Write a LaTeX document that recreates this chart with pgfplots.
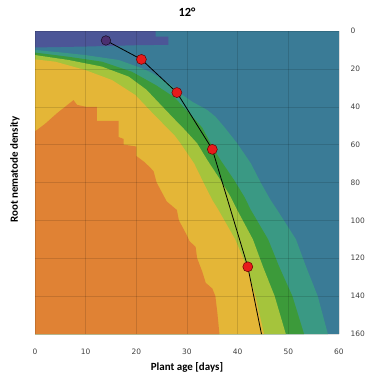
\documentclass[border=0pt]{standalone}
\usepackage{fontspec}
\setmainfont{Carlito}
\newfontfamily\dejavu{DejaVu Sans}
\usepackage{pgfplots}
\pgfplotsset{compat=1.18}
\definecolor{cteal}{HTML}{3A7B96}
\definecolor{ctg}{HTML}{3A9984}
\definecolor{cgreen}{HTML}{3C9A3A}
\definecolor{clg}{HTML}{A5C43C}
\definecolor{cyel}{HTML}{E4B637}
\definecolor{corg}{HTML}{E08234}
\definecolor{cpur}{HTML}{4C5697}
\definecolor{cdot}{HTML}{E81B1B}
\definecolor{cdpur}{HTML}{4B2F70}
\begin{document}
\begin{tikzpicture}
\begin{axis}[name=ax, scale only axis, width=304bp, height=303bp,
  xmin=0, xmax=60, ymin=0, ymax=160, y dir=reverse,
  axis line style={draw=none}, major tick length=0pt,
  xtick={0,10,...,60}, ytick={0,20,...,160},
  yticklabel pos=right,
  grid=major, grid style={black, opacity=0.13, line width=0.4pt},
  axis on top,
  /pgf/number format/assume math mode=true,
  ticklabel style={font=\dejavu\fontsize{7.5}{9}\selectfont, text=black!75},
  xticklabel style={yshift=-11bp},
  yticklabel style={xshift=8bp},
  title={\bfseries 12°},
  title style={at={(axis description cs:0.5,1)}, anchor=base, yshift=9bp, font=\fontsize{12.5}{14}\selectfont},
  xlabel={\bfseries Plant age [days]},
  xlabel style={at={(axis description cs:0.5,0)}, anchor=center, yshift=-33bp, font=\fontsize{11}{13}\selectfont},
  ylabel={\bfseries Root nematode density},
  ylabel style={at={([xshift=-20bp, yshift=13bp]axis description cs:0,0.5)}, anchor=center, font=\fontsize{11}{13}\selectfont},
]
% background
\addplot[fill=cteal, draw=none] coordinates {(0,0)(60,0)(60,160)(0,160)} -- cycle;
% teal-green region
\addplot[fill=ctg, draw=none] coordinates {(0,160)(0,10)(5,11.3)(9.9,12.7)(16.5,15.3)(21.1,19.7)(23,22)(26.4,27.6)(28.7,33)(31,37.3)(34,41.7)(35.6,45.2)(37.3,50.5)(39.9,59.3)(42.6,69.9)(44.6,80.3)(46.5,89.3)(47.8,94.5)(51.5,110)(53.5,124.5)(55.8,140)(57.8,160)} -- cycle;
% green region
\addplot[fill=cgreen, draw=none] coordinates {(0,160)(0,11.4)(6.6,13.6)(13.2,16.2)(19.1,21.5)(23.8,28.5)(27.5,35)(31,45)(33,51)(35,61)(36.6,68.1)(39.3,78.7)(41.3,87.5)(42.6,94.5)(46,110)(48.2,124.5)(50.8,140)(53.1,160)} -- cycle;
% light green region
\addplot[fill=clg, draw=none] coordinates {(0,160)(0,12.7)(6.6,15.3)(13.2,18.8)(18.5,24.1)(22,31)(25,39.5)(27.5,46.5)(29.5,52)(32,59.3)(34,68.1)(36.6,78.7)(38.6,87.5)(39.9,94.5)(43,110)(45,124.5)(47.3,140)(49.5,160)} -- cycle;
% yellow region
\addplot[fill=cyel, draw=none] coordinates {(0,160)(0,15)(4,16.2)(9.9,20.6)(15.2,25.9)(19.8,33.8)(22.6,41.7)(26,51)(27.5,55)(28.7,59.3)(31.4,69.9)(33.3,80.3)(35,89.3)(36.2,94.5)(39.5,110)(41.8,124.5)(43.5,140)(45.2,160)} -- cycle;
% orange region
\addplot[fill=corg, draw=none] coordinates {(0,160)(0,53)(2,49)(4.3,43.5)(7.6,36.5)(8.3,39)(10,40)(12.2,40)(12.2,47.5)(16.5,47.5)(16.5,56)(17.5,57)(17.5,60)(20,61)(20,66)(21.5,69)(22.5,71.5)(23.4,74)(24,80)(25.2,86)(26,90)(28,94.5)(28.4,100)(30,108)(30.5,111)(31.7,114)(32,120)(33,127)(33.7,133)(35,136)(35.6,140)(36,149)(36.4,160)} -- cycle;
% purple region
\addplot[fill=cpur, draw=none] coordinates {(0,0)(23.8,0)(23.8,3)(26.3,3)(26.3,7.3)(20,7.5)(10,8.2)(0,8.7)} -- cycle;
% line
\addplot[black, line width=0.8pt, mark=none] coordinates {(14,5)(21,15)(28,32.5)(35,62.5)(42,124.5)(44.7,160)};
\addplot[only marks, mark=*, mark size=4.8bp, mark options={fill=cdpur, draw=black!70!cdpur, line width=0.5pt}] coordinates {(14,5)};
\addplot[only marks, mark=*, mark size=5bp, mark options={fill=cdot, draw=black!60!red, line width=0.5pt}] coordinates {(21,15)(28,32.5)(35,62.5)(42,124.5)};
\end{axis}
\path ([shift={(-35bp,-51bp)}]ax.south west) rectangle ([shift={(45bp,31bp)}]ax.north east);
\end{tikzpicture}
\end{document}
